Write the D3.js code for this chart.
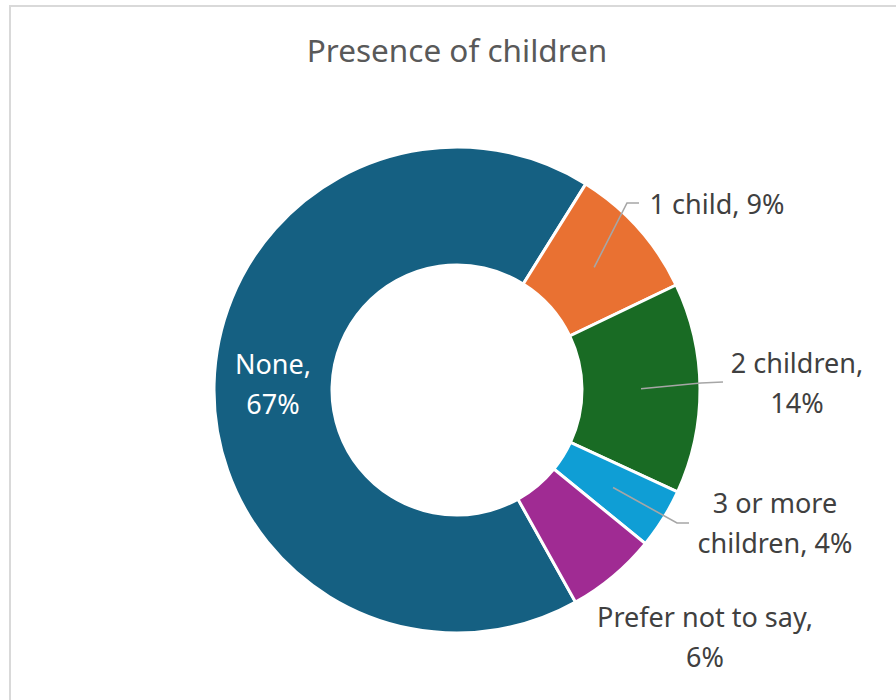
<!DOCTYPE html>
<html>
<head>
<meta charset="utf-8">
<script src="https://cdn.jsdelivr.net/npm/d3@7"></script>
<style>
  html, body { margin: 0; padding: 0; background: #ffffff; }
  svg { display: block; font-family: "Noto Sans", "Open Sans", sans-serif; }
</style>
</head>
<body>
<svg id="chart" width="896" height="700"></svg>
<script>
// Survey answers: number of children in the household (share of respondents, %)
const categories = ["None", "1 child", "2 children", "3 or more children", "Prefer not to say"];
const values = [67, 9, 14, 4, 6];
const colors = ["#156082", "#E97132", "#196B24", "#0F9ED5", "#A02B93"];
const title = "Presence of children";

// Label placement: text anchor point, word index where the label wraps,
// and an optional elbow/end for the leader line drawn from the slice centroid.
const labelLayout = [
  { x: 273, y: 374, wrapAt: 1, fill: "#ffffff", leader: null },
  { x: 717, y: 214, wrapAt: null, fill: "#404040", leader: [[627, 203], [639, 203]] },
  { x: 797, y: 373, wrapAt: 2, fill: "#404040", leader: [[701, 383], [723, 382]] },
  { x: 775, y: 513, wrapAt: 3, fill: "#404040", leader: [[677, 523], [689, 523]] },
  { x: 705, y: 627, wrapAt: 4, fill: "#404040", leader: null }
];

const svg = d3.select("#chart");
const cx = 457, cy = 390;
const outerR = 243, innerR = 125;

// Chart area frame
svg.append("rect")
  .attr("x", 10).attr("y", 6)
  .attr("width", 900).attr("height", 720)
  .attr("fill", "#ffffff")
  .attr("stroke", "#d9d9d9")
  .attr("stroke-width", 2);

// Title
svg.append("text")
  .attr("x", cx).attr("y", 62)
  .attr("text-anchor", "middle")
  .attr("font-size", 31.5)
  .attr("fill", "#595959")
  .text(title);

const data = categories.map((c, i) => ({ category: c, value: values[i], color: colors[i], layout: labelLayout[i] }));

const startDeg = 150.8;
const pie = d3.pie()
  .sort(null)
  .value(d => d.value)
  .startAngle(startDeg * Math.PI / 180)
  .endAngle(startDeg * Math.PI / 180 + 2 * Math.PI);

const arc = d3.arc().innerRadius(innerR).outerRadius(outerR);
const arcs = pie(data);

const g = svg.append("g").attr("transform", `translate(${cx},${cy})`);

g.selectAll("path.slice")
  .data(arcs)
  .join("path")
  .attr("class", "slice")
  .attr("d", arc)
  .attr("fill", d => d.data.color)
  .attr("stroke", "#ffffff")
  .attr("stroke-width", 3)
  .attr("stroke-linejoin", "miter");

// Leader lines from slice centroids to their labels
arcs.forEach(a => {
  const L = a.data.layout;
  if (!L.leader) return;
  const [px, py] = arc.centroid(a);
  const pts = [[cx + px, cy + py]].concat(L.leader);
  svg.append("path")
    .attr("d", d3.line()(pts))
    .attr("fill", "none")
    .attr("stroke", "#a6a6a6")
    .attr("stroke-width", 1.6);
});

// Data labels: "Category, NN%"
arcs.forEach(a => {
  const L = a.data.layout;
  const words = `${a.data.category}, ${a.data.value}%`.split(" ");
  const lines = L.wrapAt == null ? [words.join(" ")]
    : [words.slice(0, L.wrapAt).join(" "), words.slice(L.wrapAt).join(" ")];
  const t = svg.append("text")
    .attr("text-anchor", "middle")
    .attr("font-size", 27)
    .attr("fill", L.fill);
  lines.forEach((ln, i) => {
    t.append("tspan")
      .attr("x", L.x)
      .attr("y", L.y + i * 39.5)
      .text(ln);
  });
});
</script>
</body>
</html>
